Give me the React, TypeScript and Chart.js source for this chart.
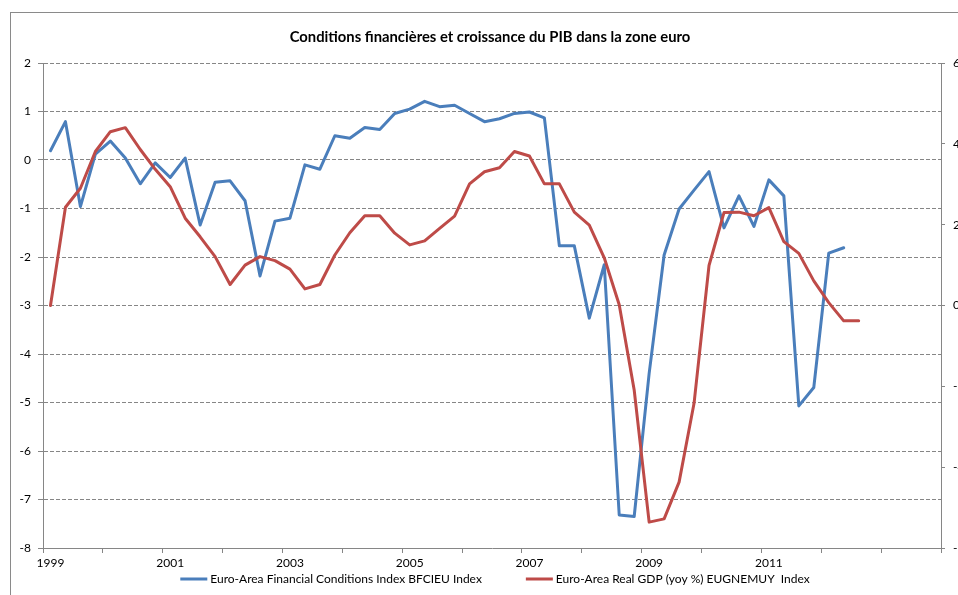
import React, { useEffect, useRef } from 'react';
import { Chart, registerables } from 'chart.js';

Chart.register(...registerables);

const TITLE = 'Conditions financières et croissance du PIB dans la zone euro';

// Quarterly categories 1999 T1 .. 2013 T4
const years = ['1999', '2000', '2001', '2002', '2003', '2004', '2005', '2006', '2007', '2008', '2009', '2010', '2011', '2012', '2013'];
const quarters = ['T1', 'T2', 'T3', 'T4'];
const quarterLabels = years.flatMap((y) => quarters.map((q) => `${y} ${q}`));
// Year labels shown on the axis
const shownYears = ['1999', '2001', '2003', '2005', '2007', '2009', '2011'];

const fciLabel = 'Euro-Area Financial Conditions Index BFCIEU Index';
const gdpLabel = 'Euro-Area Real GDP (yoy %) EUGNEMUY  Index';

// Financial conditions index (left axis), 1999 T1 .. 2012 T2
const fciValues = [
  0.19, 0.79, -0.96, 0.12, 0.39, 0.04, -0.49, -0.06,
  -0.36, 0.04, -1.34, -0.46, -0.43, -0.84, -2.39, -1.26,
  -1.2, -0.1, -0.19, 0.5, 0.45, 0.67, 0.63, 0.96,
  1.05, 1.21, 1.1, 1.13, 0.96, 0.79, 0.85, 0.96,
  0.99, 0.87, -1.77, -1.77, -3.26, -2.16, -7.32, -7.35,
  -4.4, -1.96, -1.01, -0.62, -0.24, -1.4, -0.74, -1.37,
  -0.41, -0.74, -5.07, -4.69, -1.92, -1.81,
];

// Real GDP yoy % (right axis), 1999 T1 .. 2012 T3
const gdpValues = [
  0.0, 2.43, 2.9, 3.81, 4.3, 4.4, 3.86, 3.37,
  2.94, 2.16, 1.7, 1.21, 0.52, 1.0, 1.21, 1.11,
  0.9, 0.41, 0.52, 1.25, 1.8, 2.22, 2.22, 1.79,
  1.5, 1.6, 1.91, 2.21, 3.01, 3.31, 3.41, 3.81,
  3.7, 3.01, 3.01, 2.31, 1.99, 1.18, 0.02, -2.09,
  -5.36, -5.28, -4.37, -2.42, 0.99, 2.3, 2.31, 2.22,
  2.42, 1.58, 1.29, 0.61, 0.07, -0.38, -0.38,
];

const leftMin = -8;
const leftMax = 2;
const leftStep = 1;
const rightMin = -6;
const rightMax = 6;
const rightStep = 2;

const BLUE = '#4A7EBB';
const RED = '#BE4B48';
const AXIS = '#868686';
const FONT = 'Lato, "Open Sans", sans-serif';

const lineLegend = {
  id: 'lineLegend',
  afterDraw(chart: any) {
    const { ctx, chartArea } = chart;
    ctx.save();
    ctx.font = `12px ${FONT}`;
    const box = 27;
    const gap = 3;
    const itemGap = 44;
    const items = chart.data.datasets.map((ds: any) => ({
      text: ds.label,
      color: ds.borderColor,
      tw: ctx.measureText(ds.label).width,
    }));
    const total =
      items.reduce((s: number, it: any) => s + box + gap + it.tw, 0) + itemGap * (items.length - 1);
    let x = (chartArea.left + chartArea.right) / 2 - total / 2 + 3;
    const y = chartArea.bottom + 31;
    ctx.textBaseline = 'middle';
    ctx.textAlign = 'left';
    for (const it of items) {
      ctx.fillStyle = it.color;
      ctx.fillRect(x, y - 1.5, box, 3);
      ctx.fillStyle = '#000';
      ctx.fillText(it.text, x + box + gap, y);
      x += box + gap + it.tw + itemGap;
    }
    ctx.restore();
  },
};

export default function App() {
  const canvasRef = useRef<HTMLCanvasElement | null>(null);

  useEffect(() => {
    if (!canvasRef.current) return;
    Chart.defaults.font.family = FONT;
    Chart.defaults.color = '#000';
    const chart = new Chart(canvasRef.current, {
      type: 'line',
      data: {
        labels: quarterLabels,
        datasets: [
          {
            label: fciLabel,
            data: fciValues,
            borderColor: BLUE,
            backgroundColor: BLUE,
            borderWidth: 3,
            pointRadius: 0,
            tension: 0,
            borderJoinStyle: 'round',
            borderCapStyle: 'round',
            yAxisID: 'y',
            order: 1,
          },
          {
            label: gdpLabel,
            data: gdpValues,
            borderColor: RED,
            backgroundColor: RED,
            borderWidth: 3,
            pointRadius: 0,
            tension: 0,
            borderJoinStyle: 'round',
            borderCapStyle: 'round',
            yAxisID: 'y2',
            order: 0,
          },
        ],
      },
      options: {
        responsive: false,
        animation: false,
        layout: { padding: { left: 0, right: 0, top: 0, bottom: 40 } },
        plugins: {
          legend: { display: false },
          tooltip: { enabled: false },
          title: {
            display: true,
            text: TITLE,
            color: '#000',
            font: { family: FONT, size: 14.8, weight: 'bold' },
            padding: { top: 15.5, bottom: 16.74 },
          },
        },
        scales: {
          x: {
            type: 'category',
            offset: true,
            grid: {
              display: true,
              offset: true,
              drawOnChartArea: false,
              drawTicks: true,
              tickLength: 5,
              tickColor: (ctx: any) =>
                ctx.index === undefined || ctx.index % 4 === 0 ? AXIS : 'rgba(0,0,0,0)',
            },
            border: { display: true, color: AXIS, width: 1 },
            ticks: {
              autoSkip: false,
              maxRotation: 0,
              minRotation: 0,
              padding: 3,
              font: { family: FONT, size: 12 },
              callback: (_v: any, i: number) => {
                const yr = quarterLabels[i].slice(0, 4);
                return i % 8 === 0 && shownYears.includes(yr) ? yr : '';
              },
            },
            afterFit: (scale: any) => {
              scale.height = 25;
            },
          },
          y: {
            position: 'left',
            min: leftMin,
            max: leftMax,
            grid: {
              color: AXIS,
              lineWidth: 1,
              tickLength: 5,
              tickColor: AXIS,
            },
            border: { display: true, color: AXIS, width: 1, dash: [4, 2] },
            ticks: {
              stepSize: leftStep,
              padding: 7,
              font: { family: FONT, size: 12 },
            },
            afterFit: (scale: any) => {
              scale.width = 32;
            },
          },
          y2: {
            position: 'right',
            min: rightMin,
            max: rightMax,
            grid: {
              drawOnChartArea: false,
              tickLength: 4,
              tickColor: AXIS,
            },
            border: { display: true, color: AXIS, width: 1 },
            ticks: {
              stepSize: rightStep,
              padding: 8,
              font: { family: FONT, size: 12 },
            },
            afterFit: (scale: any) => {
              scale.width = 28;
            },
          },
        },
      },
      plugins: [lineLegend],
    } as any);
    return () => chart.destroy();
  }, []);

  return (
    <div
      style={{
        position: 'fixed',
        left: 0,
        top: 0,
        width: 958,
        height: 595,
        overflow: 'hidden',
        background: '#fff',
      }}
    >
      <div
        style={{
          position: 'absolute',
          left: 10,
          top: 12,
          width: 2000,
          height: 2000,
          borderLeft: '1px solid #8a8a8a',
          borderTop: '1px solid #8a8a8a',
        }}
      />
      <canvas
        ref={canvasRef}
        width={958}
        height={600}
        style={{ position: 'absolute', left: 11, top: 13, width: 958, height: 600 }}
      />
    </div>
  );
}
